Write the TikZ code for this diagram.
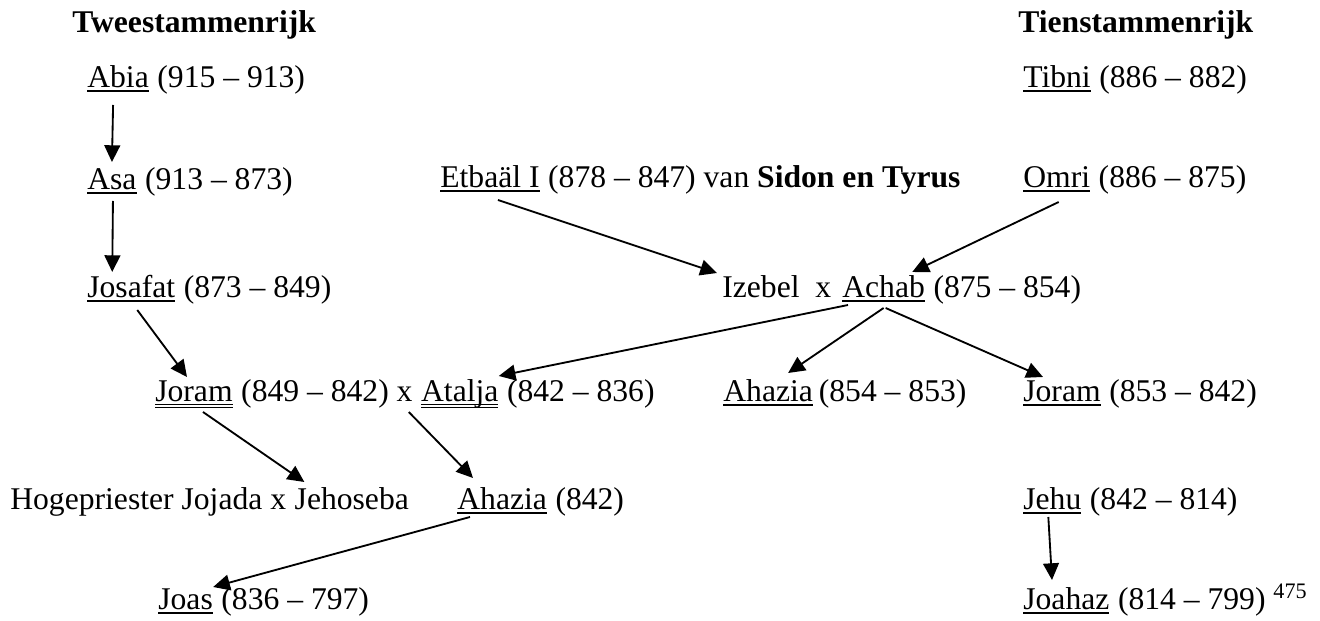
\documentclass[tikz,border=0pt]{standalone}
\usepackage{fontspec}
\setmainfont{Liberation Serif}
\usetikzlibrary{calc,arrows.meta}
\newsavebox\onderbox
\newcommand{\onder}[1]{\sbox\onderbox{#1}\rlap{\rule[-2.2pt]{\wd\onderbox}{0.8pt}}\usebox\onderbox}
\newcommand{\dubbel}[1]{\sbox\onderbox{#1}\rlap{\rule[-1.9pt]{\wd\onderbox}{0.6pt}}\rlap{\rule[-3.7pt]{\wd\onderbox}{0.6pt}}\usebox\onderbox}

\begin{document}
\begin{tikzpicture}[x=0.02cm, y=-0.02cm,
		txt/.style={anchor=base west, inner sep=0pt, font=\fontsize{18}{22}\selectfont},
		kop/.style={txt, font=\fontsize{18}{22}\selectfont\bfseries},
		pijl/.style={line width=1.05pt, -{Triangle[length=9.5pt, width=9pt]}}]
			%%%%% START %%%%%
			\useasboundingbox (0, 0) rectangle (1320, 621);
			
			\node[kop] (twee) at (72, 33) {Tweestammenrijk};
			\node[kop] (tien) at (1018, 33) {Tienstammenrijk};
			
			% Juda
			\node[txt] (abia) at (87, 88) {\onder{Abia}};
			\node[txt] (abiajr) at (abia.base east) {~(915 – 913)};
			\node[txt] (asa) at (87, 190) {\onder{Asa}};
			\node[txt] (asajr) at (asa.base east) {~(913 – 873)};
			\node[txt] (josafat) at (87, 298) {\onder{Josafat}};
			\node[txt] (josafatjr) at (josafat.base east) {~(873 – 849)};
			\node[txt] (joram1) at (155, 402) {\dubbel{Joram}};
			\node[txt] (joram1jr) at (joram1.base east) {~(849 – 842) x~\mbox{}};
			\node[txt] (atalja) at (joram1jr.base east) {\dubbel{Atalja}};
			\node[txt] (ataljajr) at (atalja.base east) {~(842 – 836)};
			\node[txt] (jojada) at (10, 510) {Hogepriester Jojada x~\mbox{}};
			\node[txt] (jehoseba) at (jojada.base east) {Jehoseba};
			\node[txt] (ahazia2) at (457, 510) {\onder{Ahazia}};
			\node[txt] (ahazia2jr) at (ahazia2.base east) {~(842)};
			\node[txt] (joas) at (158, 610) {\onder{Joas}};
			\node[txt] (joasjr) at (joas.base east) {~(836 – 797)};
			
			% Sidon en Tyrus
			\node[txt] (etbaal) at (440, 188) {\onder{Etbaäl I}};
			\node[txt] (etbaaljr) at (etbaal.base east) {~(878 – 847) van \textbf{Sidon en Tyrus}};
			\node[txt] (izebel) at (722, 298) {Izebel~~x};
			
			% Israel
			\node[txt] (tibni) at (1023, 88) {\onder{Tibni}};
			\node[txt] (tibnijr) at (tibni.base east) {~(886 – 882)};
			\node[txt] (omri) at (1023, 188) {\onder{Omri}};
			\node[txt] (omrijr) at (omri.base east) {~(886 – 875)};
			\node[txt] (achab) at (842, 298) {\onder{Achab}};
			\node[txt] (achabjr) at (achab.base east) {~(875 – 854)};
			\node[txt] (ahazia1) at (723, 402) {\onder{Ahazia}};
			\node[txt] (ahazia1jr) at (ahazia1.base east) {\,(854 – 853)};
			\node[txt] (joram2) at (1023, 402) {\onder{Joram}};
			\node[txt] (joram2jr) at (joram2.base east) {~(853 – 842)};
			\node[txt] (jehu) at (1023, 510) {\onder{Jehu}};
			\node[txt] (jehujr) at (jehu.base east) {~(842 – 814)};
			\node[txt] (joahaz) at (1023, 610) {\onder{Joahaz}};
			\node[txt] (joahazjr) at (joahaz.base east) {~(814 – 799)~\textsuperscript{475}};
			
			% opvolging
			\draw[pijl] ($(abia.base)+(-5, 17)$) -- ($(asa.base)+(0, -28)$);
			\draw[pijl] ($(asa.base)+(1, 11)$) -- ($(josafat.base)+(-19, -26)$);
			\draw[pijl] ($(josafat.base)+(6, 12)$) -- ($(joram1.base)+(-7, -25)$);
			\draw[pijl] ($(joram1.base)+(9, 10)$) -- ($(jehoseba.base west)+(10, -28)$);
			\draw[pijl] ($(atalja.base west)+(-12, 10)$) -- ($(ahazia2.base west)+(16, -32)$);
			\draw[pijl] ($(ahazia2.base west)+(13, 7)$) -- ($(joas.base east)+(0, -23)$);
			
			\draw[pijl] ($(etbaal.base)+(8, 12)$) -- ($(izebel.base west)+(-5, -25)$);
			\draw[pijl] ($(omri.base)+(2, 14)$) -- ($(achab.base east)+(-13, -26)$);
			\draw[pijl] ($(achab.base west)+(6, 7)$) -- ($(atalja.base east)+(0, -26)$);
			\draw[pijl] ($(achab.base)+(0, 10)$) -- ($(ahazia1.base)+(20, -29)$);
			\draw[pijl] ($(achab.base)+(2, 10)$) -- ($(joram2.base west)+(20, -25)$);
			\draw[pijl] ($(jehu.base)+(-4, 7)$) -- ($(joahaz.base west)+(29, -30)$);
			
			%%%%% END %%%%%
		\end{tikzpicture}
\end{document}
